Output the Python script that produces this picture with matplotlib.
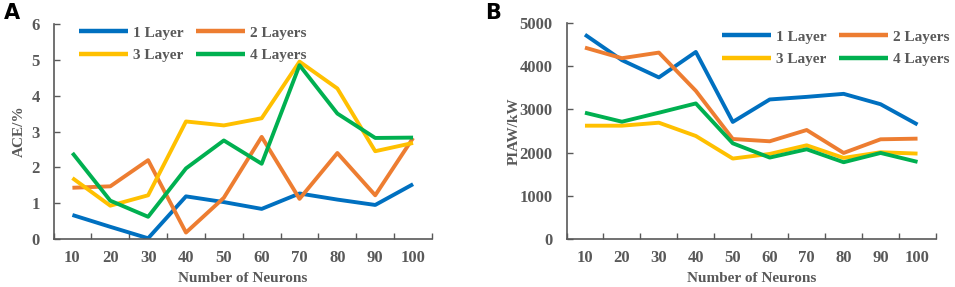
import numpy as np
import matplotlib.pyplot as plt

# Data
neurons = ['10', '20', '30', '40', '50', '60', '70', '80', '90', '100']
labels = ['1 Layer', '2 Layers', '3 Layer', '4 Layers']
colors = ['#0070C0', '#ED7D31', '#FFC000', '#00B050']

ace_1 = [0.67, 0.34, 0.02, 1.19, 1.03, 0.84, 1.27, 1.10, 0.95, 1.53]
ace_2 = [1.43, 1.47, 2.20, 0.18, 1.15, 2.85, 1.12, 2.40, 1.22, 2.82]
ace_3 = [1.70, 0.93, 1.22, 3.28, 3.17, 3.37, 4.95, 4.20, 2.45, 2.68]
ace_4 = [2.40, 1.07, 0.62, 1.97, 2.75, 2.10, 4.85, 3.50, 2.82, 2.83]

piaw_1 = [4730, 4140, 3740, 4330, 2710, 3230, 3290, 3360, 3120, 2650]
piaw_2 = [4430, 4185, 4315, 3430, 2315, 2262, 2523, 1992, 2308, 2323]
piaw_3 = [2623, 2623, 2692, 2385, 1862, 1969, 2169, 1877, 2008, 1977]
piaw_4 = [2923, 2715, 2923, 3138, 2215, 1885, 2077, 1777, 1992, 1785]

fig = plt.figure(figsize=(9.55, 2.87), dpi=100)
W, H = 955, 287
axA = fig.add_axes([53.5 / W, (H - 239) / H, (432 - 53.5) / W, 215 / H])
axB = fig.add_axes([566.5 / W, (H - 239) / H, (936 - 566.5) / W, 216 / H])

gray = '#595959'
font = dict(family='Liberation Serif', weight='bold', color=gray)


def style(ax, ylim, yticks, ylabel, ylab_x):
    x = np.arange(len(neurons))
    ax.set_xlim(-0.5, len(neurons) - 0.5)
    ax.set_ylim(*ylim)
    ax.set_yticks(yticks)
    ax.set_yticklabels([str(t) for t in yticks], fontsize=12, **font)
    # category labels, ticks drawn between categories
    ax.set_xticks(np.arange(-0.5, len(neurons) + 0.5, 1.0))
    ax.set_xticklabels([])
    ax.set_xticks(x, minor=True)
    ax.set_xticklabels(neurons, minor=True, fontsize=12, **font)
    ax.tick_params(axis='x', which='major', direction='in', length=4, color=gray, width=1)
    ax.tick_params(axis='x', which='minor', length=0, pad=8)
    ax.tick_params(axis='y', direction='in', length=4, color=gray, width=1, pad=10)
    for s in ['top', 'right']:
        ax.spines[s].set_visible(False)
    for s in ['left', 'bottom']:
        ax.spines[s].set_color(gray)
        ax.spines[s].set_linewidth(1.2)
    ax.set_xlabel('Number of Neurons', fontsize=11, labelpad=4, **font)
    ax.set_ylabel(ylabel, fontsize=11, **font)
    ax.yaxis.set_label_coords(ylab_x, 0.5)


x = np.arange(len(neurons))
for series, lab, c in zip([ace_1, ace_2, ace_3, ace_4], labels, colors):
    axA.plot(x, series, color=c, lw=2.8, label=lab, solid_capstyle='butt')
style(axA, (0, 6), [0, 1, 2, 3, 4, 5, 6], 'ACE/%', -0.073)

for series, lab, c in zip([piaw_1, piaw_2, piaw_3, piaw_4], labels, colors):
    axB.plot(x, series, color=c, lw=2.8, label=lab, solid_capstyle='butt')
style(axB, (0, 5000), [0, 1000, 2000, 3000, 4000, 5000], 'PIAW/kW', -0.124)

legprops = dict(family='Liberation Serif', weight='bold', size=11)
for ax, (lx, ly) in [(axA, (73, 20)), (axB, (716, 24))]:
    h, l = ax.get_legend_handles_labels()
    order = [0, 2, 1, 3]  # fill row by row
    leg = fig.legend([h[i] for i in order], [l[i] for i in order], ncol=2,
                     loc='upper left', bbox_to_anchor=(lx / W, 1 - ly / H),
                     frameon=False, prop=legprops, handlelength=3.2,
                     handletextpad=0.3, columnspacing=0.85, labelspacing=0.57,
                     borderaxespad=0)
    for t in leg.get_texts():
        t.set_color(gray)
    for hl in leg.get_lines():
        hl.set_linewidth(3.2)

fig.text(4 / W, 1 - 19 / H, 'A', fontsize=15, weight='bold', family='DejaVu Sans')
fig.text(485 / W, 1 - 19 / H, 'B', fontsize=15, weight='bold', family='DejaVu Sans')

fig.savefig('out.png', dpi=100)
